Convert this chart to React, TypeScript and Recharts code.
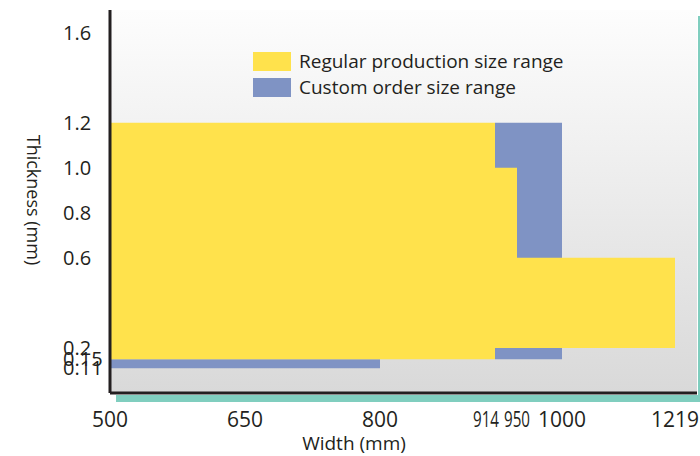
import { ComposedChart, XAxis, YAxis, ReferenceArea, CartesianGrid, Legend } from 'recharts';

// width ticks (mm)
const xTicks = [500, 650, 800, 914, 950, 1000, 1219];
// thickness ticks (mm)
const yTicks = [0.11, 0.15, 0.2, 0.6, 0.8, 1.0, 1.2, 1.6];
const yTickLabels = ['0.11', '0.15', '0.2', '0.6', '0.8', '1.0', '1.2', '1.6'];

// regular production blocks: width from/to, thickness from/to
const regularW1 = [500, 914, 950];
const regularW2 = [914, 950, 1219];
const regularT1 = [0.15, 0.2, 0.2];
const regularT2 = [1.2, 1.0, 0.6];

// custom order blocks
const customW1 = [500, 914];
const customW2 = [800, 1000];
const customT1 = [0.11, 0.15];
const customT2 = [0.15, 1.2];

const legendNames = ['Regular production size range', 'Custom order size range'];

const YELLOW = '#ffe24c';
const BLUE = '#7f93c4';
const TEAL = '#80cebf';
const INK = '#231f20';
const FONT = '"Open Sans", sans-serif';
const legendColors = [YELLOW, BLUE];

// the width axis is not evenly spaced: piecewise breakpoints (value -> px along a 587px axis)
const breakVals = [500, 800, 914, 950, 1000, 1219, 1260];
const breakPx = [0, 270, 385, 407, 452, 565, 587];

function widthScale(): any {
  let dom: number[] = [500, 1260];
  let rng: number[] = [0, 1];
  const s: any = (v: number) => {
    let i = 0;
    while (i < breakVals.length - 2 && v > breakVals[i + 1]) i++;
    const a = breakPx[i] / 587;
    const b = breakPx[i + 1] / 587;
    const t = a + ((v - breakVals[i]) / (breakVals[i + 1] - breakVals[i])) * (b - a);
    return rng[0] + t * (rng[rng.length - 1] - rng[0]);
  };
  s.domain = (d?: number[]) => {
    if (d === undefined) return dom;
    dom = d;
    return s;
  };
  s.range = (r?: number[]) => {
    if (r === undefined) return rng;
    rng = r;
    return s;
  };
  s.copy = () => widthScale().domain(dom).range(rng);
  s.ticks = () => xTicks;
  return s;
}

const XTick = (props: any) => {
  const { x, y, payload } = props;
  const v = payload.value;
  const narrow = v === 914 || v === 950;
  return (
    <text
      x={x + (v === 914 ? -9 : 0)}
      y={y}
      dy="0.71em"
      textAnchor="middle"
      fontSize={21}
      fontFamily={FONT}
      fill={INK}
      {...(narrow ? { textLength: 26, lengthAdjust: 'spacingAndGlyphs' } : {})}
    >
      {v}
    </text>
  );
};

const YTick = (props: any) => {
  const { x, y, payload, index } = props;
  return (
    <text x={x} y={y} dy="0.355em" textAnchor="start" fontSize={20} fontFamily={FONT} fill={INK}>
      {yTickLabels[index] ?? payload.value}
    </text>
  );
};

const LegendBox = () => (
  <div style={{ fontFamily: FONT, fontSize: 19, color: INK }}>
    {legendNames.map((name, i) => (
      <div key={name} style={{ display: 'flex', alignItems: 'center', height: 19, marginBottom: 7 }}>
        <div style={{ width: 38, height: 19, background: legendColors[i], marginRight: 8 }} />
        <span style={{ lineHeight: '19px', whiteSpace: 'nowrap' }}>{name}</span>
      </div>
    ))}
  </div>
);

export default function App() {
  return (
    <div style={{ position: 'absolute', left: 0, top: 0, width: 700, height: 456, background: '#fff' }}>
      <ComposedChart width={700} height={456} margin={{ top: 10, right: 3, left: 0, bottom: 0 }}>
        <defs>
          <linearGradient id="plotBg" x1="0" y1="0" x2="0" y2="1">
            <stop offset="0%" stopColor="#fdfdfd" />
            <stop offset="100%" stopColor="#d9d9d9" />
          </linearGradient>
        </defs>
        <CartesianGrid horizontal={false} vertical={false} fill="url(#plotBg)" />
        <XAxis
          type="number"
          dataKey="w"
          domain={[500, 1260]}
          scale={widthScale()}
          ticks={xTicks}
          interval={0}
          allowDataOverflow
          height={63}
          tickLine={false}
          tickSize={6}
          tickMargin={13}
          tick={<XTick />}
          axisLine={{ stroke: INK, strokeWidth: 3 }}
        />
        <YAxis
          type="number"
          dataKey="t"
          domain={[0, 1.7]}
          ticks={yTicks}
          interval={0}
          allowDataOverflow
          width={110}
          tickLine={false}
          tickSize={6}
          tickMargin={41}
          tick={<YTick />}
          axisLine={{ stroke: INK, strokeWidth: 3 }}
        />
        {customW1.map((w, i) => (
          <ReferenceArea
            key={`c${i}`}
            x1={w}
            x2={customW2[i]}
            y1={customT1[i]}
            y2={customT2[i]}
            fill={BLUE}
            fillOpacity={1}
            stroke="none"
            ifOverflow="visible"
          />
        ))}
        {regularW1.map((w, i) => (
          <ReferenceArea
            key={`r${i}`}
            x1={w}
            x2={regularW2[i]}
            y1={regularT1[i]}
            y2={regularT2[i]}
            fill={YELLOW}
            fillOpacity={1}
            stroke="none"
            ifOverflow="visible"
          />
        ))}
        <Legend
          layout="vertical"
          align="center"
          verticalAlign="middle"
          content={<LegendBox />}
          wrapperStyle={{ left: 253, top: 52, width: 340, height: 60 }}
        />
        <text x={354} y={450} textAnchor="middle" fontSize={19} fontFamily={FONT} fill={INK}>
          Width (mm)
        </text>
        <text
          x={33}
          y={200}
          dy="0.35em"
          textAnchor="middle"
          fontSize={18}
          fontFamily={FONT}
          fill={INK}
          transform="rotate(90, 33, 200)"
        >
          Thickness (mm)
        </text>
      </ComposedChart>
      <div style={{ position: 'absolute', left: 116, top: 395, width: 584, height: 7, background: TEAL }} />
      <div style={{ position: 'absolute', left: 698, top: 16, width: 2, height: 386, background: TEAL }} />
    </div>
  );
}
